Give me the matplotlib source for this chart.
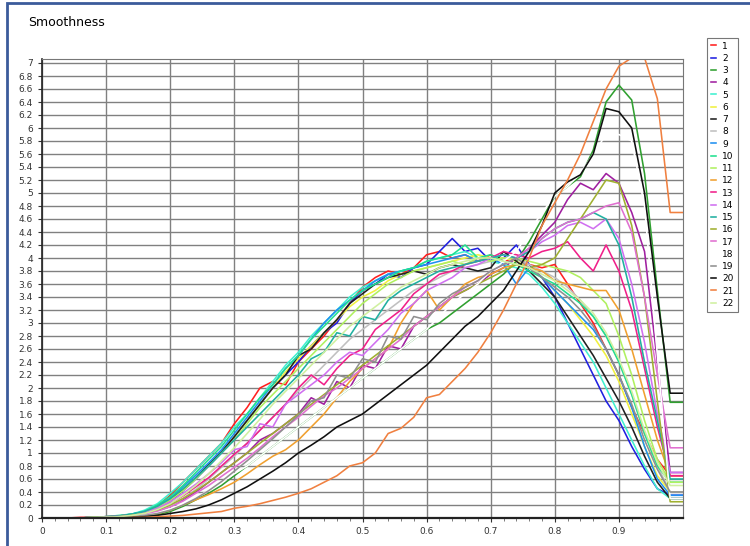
import numpy as np
import matplotlib
matplotlib.use("Agg")
import matplotlib.pyplot as plt
from matplotlib.patches import Rectangle

# x positions of the samples (0.02 .. 1.00)
x = np.round(np.arange(1, 51) * 0.02, 2)

labels = [str(i) for i in range(1, 23)]
colors = ['#ff2020', '#2020e0', '#30a030', '#a020a0', '#40f0d0', '#f0f040',
          '#202020', '#c0c0c0', '#2090f0', '#20e090', '#b0f060', '#f0a030',
          '#f0208a', '#d070f0', '#20b0a0', '#a0b030', '#e070d0', '#ffffff',
          '#909090', '#101010', '#f08040', '#d0f0a0']

s1 = [0, 0, 0.01, 0.01, 0.02, 0.02, 0.03, 0.08, 0.18, 0.35,
      0.55, 0.75, 0.95, 1.15, 1.45, 1.7, 2.0, 2.1, 2.05, 2.4,
      2.6, 2.8, 3.05, 3.3, 3.55, 3.7, 3.8, 3.75, 3.85, 4.05,
      4.1, 4.0, 4.05, 3.95, 4.05, 3.95, 4.0, 3.9, 3.85, 3.9,
      3.6, 3.3, 3.0, 2.6, 2.2, 1.7, 1.3, 0.9, 0.65, 0.65]
s2 = [0, 0, 0, 0.01, 0.01, 0.02, 0.04, 0.07, 0.14, 0.25,
      0.42, 0.6, 0.8, 1.0, 1.25, 1.5, 1.75, 2.0, 2.2, 2.4,
      2.65, 2.85, 3.0, 3.3, 3.5, 3.6, 3.75, 3.7, 3.85, 3.9,
      4.1, 4.3, 4.1, 4.15, 3.95, 4.0, 4.2, 3.9, 3.7, 3.4,
      3.0, 2.6, 2.2, 1.8, 1.5, 1.1, 0.75, 0.45, 0.35, 0.35]
s3 = [0, 0, 0, 0, 0.01, 0.01, 0.02, 0.03, 0.05, 0.1,
      0.18, 0.28, 0.38, 0.5, 0.65, 0.8, 0.95, 1.1, 1.25, 1.4,
      1.55, 1.7, 1.85, 2.0, 2.15, 2.3, 2.45, 2.6, 2.75, 2.9,
      3.0, 3.15, 3.3, 3.45, 3.6, 3.75, 3.95, 4.25, 4.6, 4.95,
      5.1, 5.25, 5.66, 6.4, 6.66, 6.43, 5.3, 3.5, 1.78, 1.78]
s4 = [0, 0, 0, 0.01, 0.01, 0.02, 0.03, 0.05, 0.1, 0.18,
      0.28, 0.4, 0.55, 0.7, 0.85, 1.0, 1.2, 1.3, 1.45, 1.6,
      1.85, 1.75, 2.1, 2.0, 2.35, 2.3, 2.65, 2.6, 2.95, 3.1,
      3.25, 3.4, 3.5, 3.6, 3.75, 3.85, 4.0, 4.15, 4.35, 4.55,
      4.9, 5.15, 5.05, 5.3, 5.15, 4.7, 4.1, 2.4, 0.7, 0.7]
s5 = [0, 0, 0, 0.01, 0.02, 0.03, 0.06, 0.12, 0.22, 0.38,
      0.55, 0.75, 0.95, 1.15, 1.4, 1.6, 1.85, 2.1, 2.35, 2.55,
      2.8, 3.0, 3.2, 3.4, 3.55, 3.65, 3.75, 3.8, 3.85, 3.95,
      4.0, 4.05, 4.1, 4.0, 3.95, 3.9, 3.85, 3.75, 3.55, 3.3,
      3.0, 2.7, 2.4, 2.0, 1.6, 1.2, 0.8, 0.45, 0.3, 0.3]
s6 = [0, 0, 0, 0.01, 0.01, 0.02, 0.05, 0.09, 0.17, 0.28,
      0.44, 0.62, 0.82, 1.02, 1.25, 1.5, 1.75, 2.0, 2.25, 2.45,
      2.65, 2.85, 3.05, 3.25, 3.4, 3.5, 3.65, 3.75, 3.8, 3.85,
      3.9, 3.95, 4.0, 4.05, 4.0, 4.0, 3.95, 3.85, 3.7, 3.5,
      3.3, 3.05, 2.8, 2.5, 2.1, 1.6, 1.1, 0.65, 0.4, 0.4]
s7 = [0, 0, 0, 0.01, 0.01, 0.02, 0.04, 0.08, 0.15, 0.27,
      0.43, 0.62, 0.82, 1.02, 1.25, 1.5, 1.75, 2.0, 2.2, 2.5,
      2.6, 2.85, 3.05, 3.3, 3.45, 3.6, 3.7, 3.75, 3.8, 3.75,
      3.85, 3.9, 3.85, 3.8, 3.85, 4.1, 3.95, 3.8, 3.6, 3.4,
      3.1, 2.8, 2.5, 2.15, 1.8, 1.4, 0.95, 0.55, 0.3, 0.3]
s8 = [0, 0, 0, 0, 0.01, 0.02, 0.03, 0.06, 0.1, 0.18,
      0.3, 0.44, 0.6, 0.78, 0.95, 1.15, 1.35, 1.55, 1.75, 1.95,
      2.15, 2.35, 2.55, 2.75, 2.9, 3.05, 3.2, 3.35, 3.5, 3.6,
      3.7, 3.8, 3.85, 3.9, 3.95, 4.0, 4.0, 3.9, 3.8, 3.7,
      3.55, 3.35, 3.1, 2.8, 2.4, 1.9, 1.3, 0.8, 0.4, 0.4]
s9 = [0, 0, 0, 0.01, 0.02, 0.03, 0.06, 0.1, 0.18, 0.3,
      0.48, 0.66, 0.85, 1.05, 1.3, 1.55, 1.8, 2.05, 2.3, 2.5,
      2.75, 3.0, 3.2, 3.35, 3.5, 3.65, 3.75, 3.8, 3.85, 3.9,
      3.95, 4.0, 4.05, 3.95, 4.0, 3.9, 3.6, 3.85, 3.7, 3.5,
      3.3, 3.1, 2.9, 2.6, 2.2, 1.7, 1.1, 0.6, 0.35, 0.35]
s10 = [0, 0, 0, 0.01, 0.02, 0.04, 0.06, 0.1, 0.2, 0.33,
       0.5, 0.7, 0.9, 1.1, 1.35, 1.6, 1.85, 2.05, 2.3, 2.5,
       2.75, 2.95, 3.15, 3.35, 3.5, 3.6, 3.7, 3.8, 3.85, 3.95,
       4.0, 4.05, 4.2, 4.0, 4.05, 3.95, 3.9, 3.8, 3.7, 3.6,
       3.45, 3.3, 3.1, 2.8, 2.4, 1.9, 1.3, 0.8, 0.55, 0.55]
s11 = [0, 0, 0, 0.01, 0.02, 0.03, 0.05, 0.09, 0.16, 0.27,
       0.42, 0.6, 0.8, 1.0, 1.2, 1.45, 1.7, 1.9, 2.1, 2.3,
       2.5, 2.7, 2.9, 3.1, 3.3, 3.45, 3.6, 3.7, 3.8, 3.85,
       3.9, 3.95, 3.9, 4.0, 3.95, 4.0, 4.0, 3.95, 3.9, 3.85,
       3.8, 3.7, 3.5, 3.3, 2.8, 2.2, 1.5, 0.9, 0.55, 0.55]
s12 = [0, 0, 0, 0, 0.01, 0.01, 0.02, 0.04, 0.07, 0.12,
       0.2, 0.28, 0.36, 0.45, 0.55, 0.68, 0.82, 0.95, 1.05, 1.2,
       1.4, 1.6, 1.85, 2.1, 2.3, 2.45, 2.6, 3.0, 3.3, 3.5,
       3.2, 3.4, 3.6, 3.7, 3.75, 3.85, 3.9, 3.85, 3.8, 3.65,
       3.6, 3.55, 3.5, 3.5, 3.2, 2.6, 1.9, 1.2, 0.65, 0.65]
s13 = [0, 0, 0, 0.01, 0.02, 0.03, 0.05, 0.08, 0.14, 0.22,
       0.34, 0.48, 0.62, 0.8, 0.98, 1.15, 1.35, 1.55, 1.75, 2.0,
       2.2, 2.05, 2.3, 2.5, 2.6, 2.9, 3.05, 3.2, 3.45, 3.6,
       3.75, 3.8, 3.9, 3.95, 4.0, 4.1, 4.05, 4.0, 4.1, 4.15,
       4.25, 4.0, 3.8, 4.2, 3.8, 3.2, 2.3, 1.4, 0.65, 0.65]
s14 = [0, 0, 0, 0.01, 0.01, 0.03, 0.05, 0.09, 0.15, 0.25,
       0.38, 0.52, 0.68, 0.85, 1.05, 1.1, 1.45, 1.4, 1.75, 1.9,
       2.05, 2.2, 2.4, 2.55, 2.5, 2.7, 2.9, 3.15, 3.3, 3.5,
       3.6, 3.7, 3.85, 3.9, 4.0, 4.05, 4.0, 4.1, 4.25, 4.35,
       4.5, 4.55, 4.45, 4.6, 4.3, 3.6, 2.7, 1.6, 0.7, 0.7]
s15 = [0, 0, 0, 0.01, 0.02, 0.03, 0.06, 0.1, 0.18, 0.3,
       0.45, 0.62, 0.8, 1.0, 1.2, 1.4, 1.6, 1.8, 2.0, 2.2,
       2.45, 2.55, 2.85, 2.8, 3.1, 3.05, 3.35, 3.5, 3.6, 3.7,
       3.8, 3.85, 3.9, 3.95, 4.0, 4.05, 4.0, 4.1, 4.3, 4.45,
       4.55, 4.6, 4.7, 4.6, 4.2, 3.4, 2.4, 1.5, 0.6, 0.6]
s16 = [0, 0, 0, 0.01, 0.01, 0.02, 0.04, 0.07, 0.12, 0.2,
       0.3, 0.42, 0.55, 0.7, 0.85, 1.0, 1.15, 1.3, 1.45, 1.6,
       1.75, 1.9, 2.05, 2.2, 2.35, 2.5, 2.65, 2.8, 2.95, 3.1,
       3.25, 3.4, 3.5, 3.6, 3.7, 3.8, 3.9, 3.85, 3.9, 4.0,
       4.3, 4.6, 4.9, 5.2, 5.15, 4.5, 3.4, 1.8, 0.25, 0.25]
s17 = [0, 0, 0, 0, 0.01, 0.02, 0.03, 0.06, 0.1, 0.17,
       0.26, 0.38, 0.5, 0.64, 0.78, 0.92, 1.08, 1.25, 1.4, 1.55,
       1.72, 1.88, 2.0, 2.15, 2.3, 2.45, 2.6, 2.75, 2.95, 3.1,
       3.25, 3.4, 3.55, 3.65, 3.8, 3.9, 4.0, 4.15, 4.3, 4.45,
       4.55, 4.6, 4.7, 4.8, 4.85, 4.4, 3.4, 2.2, 1.08, 1.08]
s18 = [0, 0, 0, 0, 0.01, 0.01, 0.02, 0.04, 0.08, 0.14,
       0.22, 0.32, 0.42, 0.55, 0.68, 0.8, 0.95, 1.1, 1.25, 1.4,
       1.55, 1.7, 1.85, 2.0, 2.15, 2.3, 2.45, 2.6, 2.75, 2.9,
       3.1, 3.3, 3.45, 3.6, 3.8, 3.95, 4.1, 4.4, 4.7, 4.95,
       5.1, 5.3, 5.6, 5.9, 5.9, 5.8, 4.8, 2.5, 0.3, 0.3]
s19 = [0, 0, 0, 0, 0.01, 0.01, 0.02, 0.04, 0.07, 0.12,
       0.2, 0.3, 0.42, 0.56, 0.72, 0.88, 1.05, 1.22, 1.4, 1.58,
       1.8, 1.85, 2.2, 2.15, 2.45, 2.4, 2.8, 2.75, 3.1, 3.05,
       3.3, 3.45, 3.55, 3.65, 3.8, 3.9, 4.0, 3.85, 3.7, 3.55,
       3.4, 3.2, 2.95, 2.6, 2.2, 1.75, 1.2, 0.75, 0.4, 0.4]
s20 = [0, 0, 0, 0, 0, 0.01, 0.01, 0.02, 0.04, 0.07,
       0.1, 0.14, 0.2, 0.28, 0.38, 0.48, 0.6, 0.72, 0.85, 1.0,
       1.12, 1.25, 1.4, 1.5, 1.6, 1.75, 1.9, 2.05, 2.2, 2.35,
       2.55, 2.75, 2.95, 3.1, 3.3, 3.5, 3.8, 4.1, 4.5, 5.0,
       5.17, 5.28, 5.6, 6.3, 6.25, 6.0, 5.0, 3.4, 1.92, 1.92]
s21 = [0, 0, 0, 0, 0, 0, 0.01, 0.01, 0.02, 0.03,
       0.04, 0.06, 0.08, 0.1, 0.15, 0.18, 0.22, 0.27, 0.32, 0.38,
       0.45, 0.55, 0.65, 0.8, 0.85, 1.0, 1.3, 1.38, 1.55, 1.85,
       1.9, 2.1, 2.3, 2.55, 2.85, 3.2, 3.6, 4.0, 4.5, 4.85,
       5.2, 5.6, 6.1, 6.6, 6.95, 7.08, 7.08, 6.45, 4.7, 4.7]
s22 = [0, 0, 0, 0.01, 0.01, 0.02, 0.04, 0.07, 0.13, 0.22,
       0.35, 0.5, 0.68, 0.88, 1.08, 1.3, 1.52, 1.75, 1.95, 2.15,
       2.35, 2.55, 2.75, 2.95, 3.1, 3.25, 3.4, 3.55, 3.65, 3.75,
       3.85, 3.9, 3.95, 4.0, 4.0, 3.95, 3.9, 3.85, 3.75, 3.65,
       3.5, 3.35, 3.15, 2.85, 2.45, 1.95, 1.35, 0.85, 0.5, 0.5]

series = [s1, s2, s3, s4, s5, s6, s7, s8, s9, s10, s11,
          s12, s13, s14, s15, s16, s17, s18, s19, s20, s21, s22]

yticks = np.round(np.arange(0, 7.01, 0.2), 1)
xticks = np.round(np.arange(0, 0.91, 0.1), 1)


def fmt(v):
    return ('%g' % v)


fig = plt.figure(figsize=(7.5, 5.46), dpi=100)
W, H = 750, 546
ax = fig.add_axes([42 / W, 1 - 518 / H, (683 - 42) / W, (518 - 59) / H])

for ys, c, lab in zip(series, colors, labels):
    ax.plot(x, ys, color=c, lw=1.15, label=lab)

ax.set_xlim(0, 1.0)
ax.set_ylim(0, (518 - 59) / 65)
ax.set_yticks(yticks)
ax.set_yticklabels([fmt(v) for v in yticks])
ax.set_xticks(xticks)
ax.set_xticklabels([fmt(v) for v in xticks])
ax.set_xticks(np.arange(0, 1.0, 0.02), minor=True)
ax.tick_params(axis='both', labelsize=6.5, colors='#333333', length=3, width=0.8)
ax.tick_params(axis='x', which='minor', length=2, width=0.6, colors='#666666')
ax.grid(True, which='major', color='#808080', lw=1.0)
ax.set_axisbelow(True)
for side in ['top', 'right']:
    ax.spines[side].set_color('#777777')
ax.spines['left'].set_color('#222222')
ax.spines['bottom'].set_color('#222222')
ax.spines['bottom'].set_linewidth(1.6)
ax.spines['left'].set_linewidth(1.2)

fig.text(28 / W, 1 - 22 / H, 'Smoothness', fontsize=9, va='center', ha='left')

leg = fig.legend(loc='upper left', bbox_to_anchor=(702 / W, 1 - 33 / H),
                 fontsize=6.5, handlelength=0.6, handletextpad=0.7,
                 labelspacing=0.36, borderpad=0.45, frameon=True,
                 fancybox=False, edgecolor='#555555')
leg.get_frame().set_linewidth(0.8)

# blue frame of the original window
fig.patches.append(Rectangle((7 / W, -0.05), 1.2, 1 - 3 / H + 0.05,
                             transform=fig.transFigure, fill=False,
                             edgecolor='#3b5b9b', lw=2))

fig.savefig('out.png', dpi=100)
